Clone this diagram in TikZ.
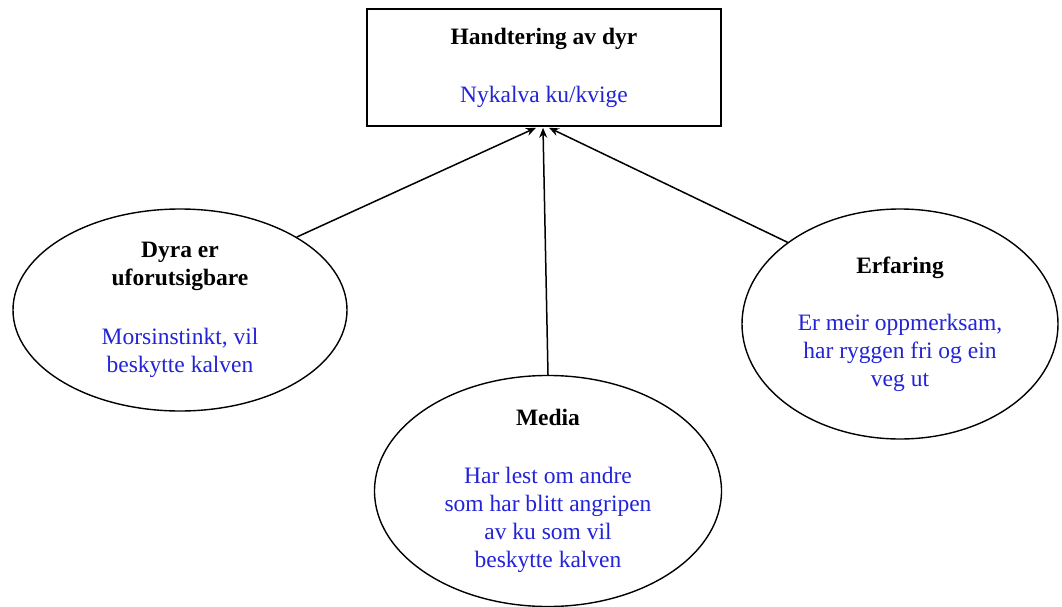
\documentclass[tikz,border=0pt]{standalone}
\usepackage{fontspec}
\setmainfont{Liberation Serif}
\usetikzlibrary{shapes.geometric,arrows.meta,calc}
\definecolor{bodyblue}{RGB}{35,35,215}
\begin{document}
\begin{tikzpicture}[x=1pt,y=-1pt,
  txt/.style={font=\fontsize{23.5}{28}\selectfont, align=center},
  oval/.style={draw, ellipse, line width=1.4pt, inner sep=0pt, txt},
  topbox/.style={draw, line width=1.5pt, inner sep=0pt, txt},
  conn/.style={line width=1.5pt, -{Stealth[length=10pt,width=8pt]}}]
\fill[white] (0,0) rectangle (1062,607);
\useasboundingbox (0,0) rectangle (1062,607);
\node[topbox, minimum width=354pt, minimum height=117pt] (H) at (544,67.5)
  {\textbf{Handtering av dyr}\\[30pt]\textcolor{bodyblue}{Nykalva ku/kvige}};
\node[oval, minimum width=334pt, minimum height=202pt] (L) at (180,310)
  {\textbf{Dyra er}\\\textbf{uforutsigbare}\\[31pt]\textcolor{bodyblue}{Morsinstinkt, vil}\\\textcolor{bodyblue}{beskytte kalven}};
\node[oval, minimum width=316pt, minimum height=230pt] (R) at (900,324)
  {\textbf{Erfaring}\\[29pt]\textcolor{bodyblue}{Er meir oppmerksam,}\\\textcolor{bodyblue}{har ryggen fri og ein}\\\textcolor{bodyblue}{veg ut}};
\node[oval, minimum width=347pt, minimum height=228pt] (M) at (548,491)
  {\textbf{Media}\\[30pt]\textcolor{bodyblue}{Har lest om andre}\\\textcolor{bodyblue}{som har blitt angripen}\\\textcolor{bodyblue}{av ku som vil}\\\textcolor{bodyblue}{beskytte kalven}};
\draw[conn] (L.32) -- ($(H.south)+(-8,1)$);
\draw[conn] (M.north) -- ($(H.south)+(-1,1)$);
\draw[conn] (R.144) -- ($(H.south)+(5,1)$);
\end{tikzpicture}
\end{document}
